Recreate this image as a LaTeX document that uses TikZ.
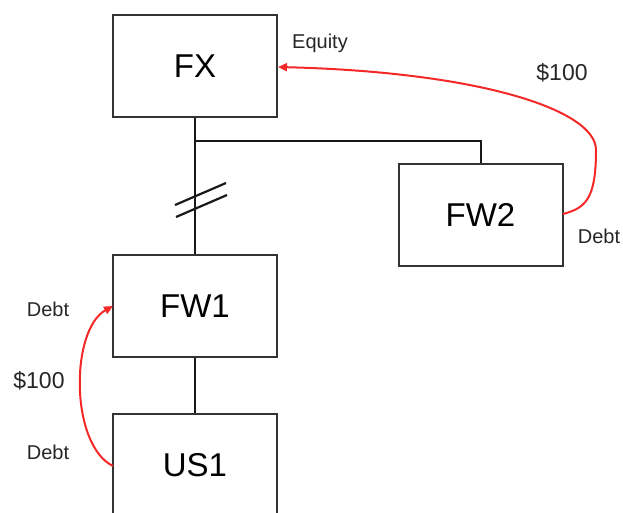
\documentclass[tikz,border=0pt]{standalone}
\usepackage{fontspec}
\setmainfont{Liberation Sans}
\usetikzlibrary{arrows.meta}
\definecolor{flowred}{RGB}{245,40,40}
\begin{document}
\begin{tikzpicture}[x=1pt,y=-1pt,
  ent/.style={draw=black!80,line width=2pt,minimum width=164pt,minimum height=102pt,inner sep=0pt,font=\fontsize{33}{36}\selectfont},
  link/.style={draw=black!90,line width=2.2pt},
  flow/.style={draw=flowred,line width=2pt,-{Triangle[length=9pt,width=8pt]}},
  lbl/.style={font=\fontsize{20}{22}\selectfont,text=black!85},
  amt/.style={font=\fontsize{23}{26}\selectfont,text=black!85}]
\useasboundingbox (0,0) rectangle (623,512);
\node[ent] (fx) at (195,66) {FX};
\node[ent] (fw2) at (480.5,215) {FW2};
\node[ent] (fw1) at (195,306) {FW1};
\node[ent] (us1) at (195,465) {US1};
\coordinate (j) at (195,141);
\coordinate (k) at (481,141);
\draw[link] (fx.south) -- (fw1.north);
\draw[link] (j) -- (k) -- (k |- fw2.north);
\draw[link] (fw1.south) -- (us1.north);
\coordinate (s1a) at (175,205); \coordinate (s1b) at (226,183);
\coordinate (s2a) at (176,217); \coordinate (s2b) at (227,195);
\draw[link] (s1a) -- (s1b);
\draw[link] (s2a) -- (s2b);
\coordinate (fw2r) at (563,214);
\coordinate (fxr) at (278,67);
\draw[flow] (fw2r) .. controls (585,208) and (596,200) .. (596,150)
  .. controls (596,110) and (480,72) .. (fxr);
\coordinate (us1l) at (113,466);
\coordinate (fw1l) at (113,306);
\draw[flow] (us1l) .. controls (70,445) and (70,330) .. (fw1l);
\node[lbl] (eq) at (320,43) {Equity};
\node[amt] (a1) at (562,73) {\$100};
\node[lbl] (d1) at (599,236) {Debt};
\node[lbl] (d2) at (48,309) {Debt};
\node[amt] (a2) at (39,381) {\$100};
\node[lbl] (d3) at (48,452) {Debt};
\end{tikzpicture}
\end{document}
